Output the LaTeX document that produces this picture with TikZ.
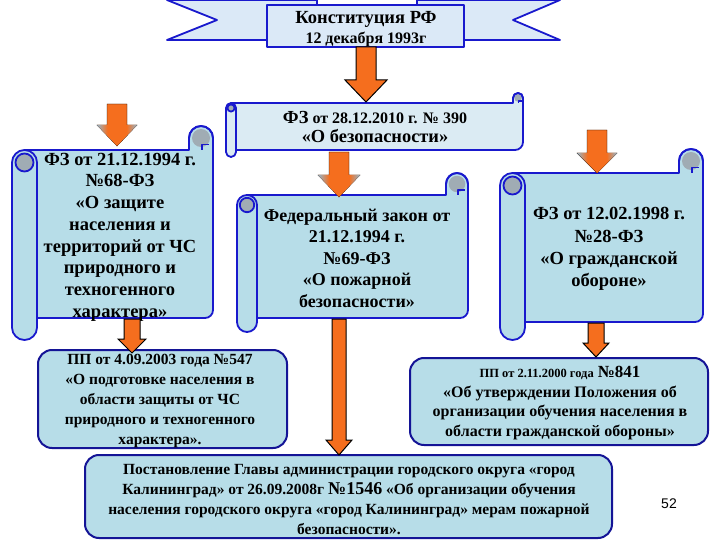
\documentclass[tikz,border=0pt]{standalone}
\usepackage{fontspec}
\setmainfont{Liberation Serif}
\newfontfamily\arialf{Liberation Sans}
\definecolor{bordblue}{RGB}{25,25,205}
\definecolor{boxblue}{RGB}{20,20,150}
\definecolor{scrollfill}{RGB}{183,221,232}
\definecolor{lightfill}{RGB}{219,235,243}
\definecolor{ribfill}{RGB}{219,233,247}
\definecolor{curlgray}{RGB}{160,172,180}
\definecolor{arrorange}{RGB}{245,110,30}
\pgfdeclarehorizontalshading{headshade}{100bp}{color(0bp)=(curlgray); color(27bp)=(curlgray); color(38bp)=(arrorange); color(62bp)=(arrorange); color(73bp)=(curlgray); color(100bp)=(curlgray)}
\tikzset{
  scrollline/.style={draw=bordblue, line width=1.8pt, line join=round},
  ppbox/.style={draw=boxblue, line width=2pt, fill=scrollfill, rounded corners=14pt},
  txt/.style={align=center, inner sep=0pt, font=\bfseries},
  shadearrow/.style={fill=arrorange},
  outarrow/.style={fill=arrorange, draw=black, line width=1pt, line join=miter},
}
% L T R B Bext w r fill
\newcommand\vscroll[8]{%
  \filldraw[scrollline, fill=#8] (#1+#6/2,#2) -- (#3-2*#7,#2) -- (#3-2*#7,#2-#7)
     arc[start angle=180,end angle=360,radius=#7] -- (#3,#4-8)
     arc[start angle=0,end angle=90,radius=8] -- (#1+#6/2,#4) -- cycle;
  \fill[curlgray] (#3-#7,#2-#7) circle[radius=#7*0.75];
  \draw[scrollline] (#3-2*#7,#2-#7) arc[start angle=180,end angle=360,radius=#7];
  \draw[scrollline] (#3-#7*0.9,#2) -- (#3-#7*0.9,#2-#7*0.45) -- (#3-#7*0.3,#2-#7*0.45);
  \filldraw[scrollline, fill=#8] (#1,#2+#6/2) -- (#1,#5-#6/2)
     arc[start angle=180,end angle=0,radius=#6/2] -- (#1+#6,#2+#6/2)
     arc[start angle=0,end angle=-180,radius=#6/2] -- cycle;
  \filldraw[scrollline, fill=curlgray] (#1+#6/2,#2+#6/2) circle[radius=#6*0.36];
}
% x ytop ytip shafthw headhw headlen style
\newcommand\barrow[7]{%
  \filldraw[#7] (#1-#4,#2) -- (#1-#4,#3-#6) -- (#1-#5,#3-#6) -- (#1,#3)
     -- (#1+#5,#3-#6) -- (#1+#4,#3-#6) -- (#1+#4,#2) -- cycle;
}
\newcommand\sarrow[6]{%
  \barrow{#1}{#2}{#3}{#4}{#5}{#6}{shadearrow}
  \shade[shading=headshade]
     (#1-#5,#3-#6) -- (#1,#3) -- (#1+#5,#3-#6) -- cycle;
}
\begin{document}
\begin{tikzpicture}[x=1pt,y=-1pt]
\useasboundingbox (0,0) rectangle (720,540);
% ---------- top ribbon ----------
\filldraw[scrollline, fill=ribfill] (167,0) -- (317,0) -- (317,40) -- (167,40) -- (217,20) -- cycle;
\filldraw[scrollline, fill=ribfill] (560,0) -- (417,0) -- (417,40) -- (560,40) -- (513,20) -- cycle;
\node[scrollline, fill=ribfill, minimum width=197pt, minimum height=42pt, inner sep=0pt] (constbox) at (365.5,26) {};
\node[txt, font=\bfseries\fontsize{16}{20}\selectfont] (const) at (366,29) {{\fontsize{18.5}{20}\selectfont Конституция РФ}\\12 декабря 1993г};
% ---------- scrolls ----------
\vscroll{226}{103}{523}{150}{157}{10}{5}{lightfill}
\node[txt, font=\bfseries\fontsize{16}{19.5}\selectfont] (fz390) at (375,127) {{\fontsize{18.4}{19.5}\selectfont ФЗ} от 28.12.2010 г. № 390\\{\fontsize{18.4}{19.5}\selectfont «О безопасности»}};
\vscroll{12}{150}{213}{318}{340}{25}{12}{scrollfill}
\node[txt, font=\bfseries\fontsize{18.5}{21.7}\selectfont] (fz68) at (120,237) {ФЗ от 21.12.1994 г.\\№68-ФЗ\\«О защите\\населения и\\территорий от ЧС\\природного и\\техногенного\\характера»};
\vscroll{237}{195}{468}{318}{332}{20}{11}{scrollfill}
\node[txt, font=\bfseries\fontsize{18}{21.5}\selectfont] (fz69) at (357,258) {Федеральный закон от\\21.12.1994 г.\\№69-ФЗ\\«О пожарной\\безопасности»};
\vscroll{500}{173}{703}{322}{340}{25}{12}{scrollfill}
\node[txt, font=\bfseries\fontsize{18.5}{22.3}\selectfont] (fz28) at (609,249) {ФЗ от 12.02.1998 г.\\№28-ФЗ\\«О гражданской\\обороне»};
% ---------- rounded boxes ----------
\draw[ppbox] (38,350) rectangle (287,448);
\node[txt, font=\bfseries\fontsize{15.5}{20}\selectfont] (pp547) at (160,401) {ПП от 4.09.2003 года №547\\«О подготовке населения в\\области защиты от ЧС\\природного и техногенного\\характера».};
\draw[ppbox] (410,358) rectangle (708,445);
\node[txt, font=\bfseries\fontsize{16}{19.5}\selectfont] (pp841) at (560,403) {{\fontsize{12.5}{19.5}\selectfont ПП от 2.11.2000 года} {\fontsize{17}{19.5}\selectfont №841}\\«Об утверждении Положения об\\организации обучения населения в\\области гражданской обороны»};
\draw[ppbox] (85,455) rectangle (612,538);
\node[txt, font=\bfseries\fontsize{15.5}{20}\selectfont] (post) at (349,500) {Постановление Главы администрации городского округа «город\\Калининград» от 26.09.2008г {\fontsize{18}{20}\selectfont №1546} «Об организации обучения\\населения городского округа «город Калининград» мерам пожарной\\безопасности».};
\node[font=\arialf\fontsize{14}{16}\selectfont] (num) at (669,504) {52};
% ---------- arrows ----------
\barrow{366}{47}{102}{10}{21}{22}{outarrow}
\sarrow{117}{104}{146}{10}{20}{21}
\sarrow{339}{152}{197}{10}{21}{22}
\sarrow{597}{130}{173}{10}{20}{20}
\barrow{132}{319}{353}{8}{14}{14}{outarrow}
\barrow{596}{323}{357}{8}{13}{14}{outarrow}
\barrow{339}{319}{455}{7}{13}{15}{outarrow}
\end{tikzpicture}
\end{document}
